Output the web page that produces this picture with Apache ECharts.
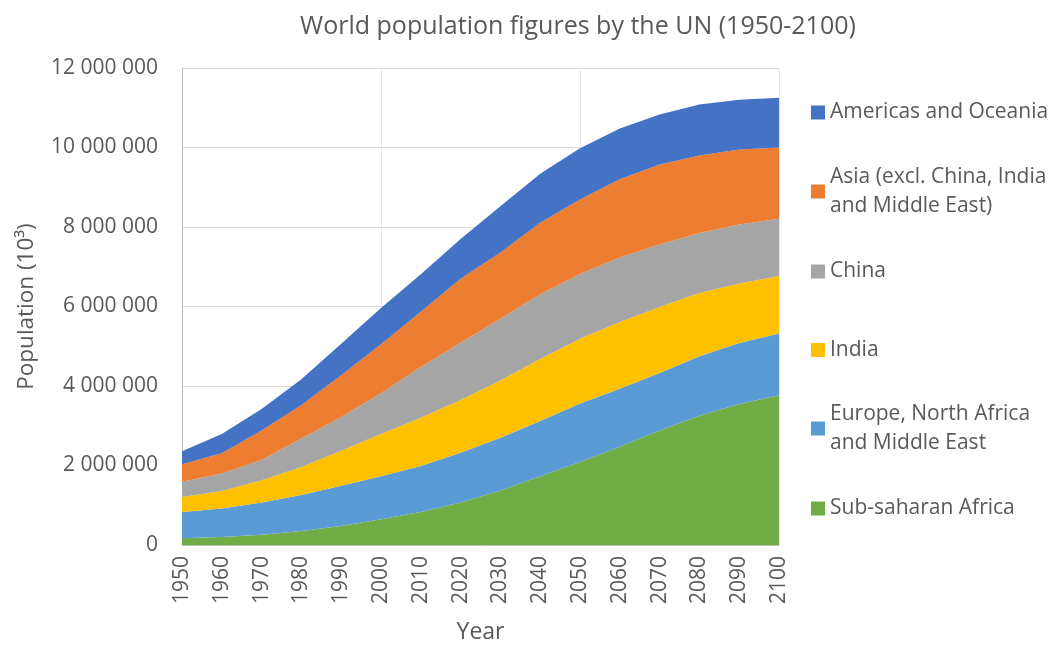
<!DOCTYPE html>
<html>
<head>
<meta charset="utf-8">
<script src="https://cdn.jsdelivr.net/npm/echarts@6/dist/echarts.min.js"></script>
<style>
  html, body { margin: 0; padding: 0; background: #ffffff; overflow: hidden; }
  #chart { width: 1049px; height: 649px; }
</style>
</head>
<body>
<div id="chart"></div>
<script>
// Years on the horizontal axis
const years = ['1950', '1960', '1970', '1980', '1990', '2000', '2010', '2020',
  '2030', '2040', '2050', '2060', '2070', '2080', '2090', '2100'];

// Population by region, in thousands (stacked bottom to top)
const subSaharanAfrica = [170000, 200000, 260000, 350000, 480000, 650000, 830000, 1070000,
  1370000, 1730000, 2090000, 2470000, 2880000, 3250000, 3550000, 3770000];
const europeNAfricaMiddleEast = [660000, 720000, 810000, 910000, 1010000, 1080000, 1160000, 1250000,
  1330000, 1390000, 1470000, 1460000, 1450000, 1500000, 1530000, 1550000];
const india = [380000, 440000, 560000, 700000, 880000, 1060000, 1210000, 1330000,
  1440000, 1560000, 1630000, 1680000, 1660000, 1590000, 1500000, 1450000];
const china = [380000, 440000, 510000, 720000, 850000, 1030000, 1280000, 1440000,
  1550000, 1630000, 1630000, 1620000, 1570000, 1510000, 1480000, 1440000];
const asiaOther = [440000, 510000, 740000, 840000, 1050000, 1230000, 1390000, 1610000,
  1670000, 1800000, 1870000, 1970000, 2010000, 1950000, 1890000, 1790000];
const americasOceania = [330000, 480000, 540000, 650000, 790000, 910000, 940000, 1000000,
  1160000, 1230000, 1290000, 1280000, 1260000, 1280000, 1250000, 1250000];

// Series names and colours
const names = {
  ssa: 'Sub-saharan Africa',
  eur: 'Europe, North Africa\nand Middle East',
  ind: 'India',
  chn: 'China',
  asia: 'Asia (excl. China, India\nand Middle East)',
  ame: 'Americas and Oceania'
};
const colors = {
  ssa: '#70AD47', eur: '#5B9BD5', ind: '#FFC000',
  chn: '#A5A5A5', asia: '#ED7D31', ame: '#4472C4'
};

const FONT = 'Open Sans';
const TEXT = '#595959';

function spaced(v) {
  return String(v).replace(/\B(?=(\d{3})+(?!\d))/g, ' ');
}

function area(key, data) {
  return {
    name: names[key],
    type: 'line',
    stack: 'total',
    data: data,
    symbol: 'none',
    smooth: false,
    lineStyle: { width: 0 },
    areaStyle: { color: colors[key], opacity: 1 },
    itemStyle: { color: colors[key] },
    emphasis: { disabled: true }
  };
}

// One legend block per entry, stacked down the right side
function legendEntry(key, top, twoLines) {
  return {
    data: [names[key]],
    orient: 'vertical',
    left: 811,
    top: top,
    padding: 0,
    itemWidth: 14,
    itemHeight: 14,
    icon: 'rect',
    selectedMode: false,
    textStyle: {
      fontFamily: FONT, fontSize: 21, color: TEXT, lineHeight: 29,
      padding: twoLines ? [29, 0, 0, 0] : 0
    }
  };
}

const chart = echarts.init(document.getElementById('chart'), null,
  { renderer: 'canvas', width: 1049, height: 649 });

chart.setOption({
  animation: false,
  backgroundColor: '#ffffff',
  title: {
    text: 'World population figures by the UN (1950-2100)',
    left: 573,
    top: 9,
    textAlign: 'center',
    textStyle: { fontFamily: FONT, fontSize: 25, fontWeight: 'normal', color: TEXT }
  },
  legend: [
    legendEntry('ame', 98, false),
    legendEntry('asia', 148, true),
    legendEntry('chn', 257, false),
    legendEntry('ind', 335.5, false),
    legendEntry('eur', 385, true),
    legendEntry('ssa', 494, false)
  ],
  grid: { left: 182, top: 68, width: 597, height: 483, containLabel: false },
  xAxis: {
    type: 'category',
    data: years,
    boundaryGap: false,
    name: 'Year',
    nameLocation: 'middle',
    nameGap: 76,
    nameTextStyle: { fontFamily: FONT, fontSize: 23, color: TEXT },
    axisLine: { lineStyle: { color: '#BFBFBF', width: 1 } },
    axisTick: { show: false },
    axisLabel: {
      rotate: 90, margin: 11, interval: 0,
      fontFamily: FONT, fontSize: 21, color: TEXT
    },
    splitLine: { show: true, interval: 4, lineStyle: { color: '#E6E6E6', width: 1 } }
  },
  yAxis: {
    type: 'value',
    min: 0,
    max: 12000000,
    interval: 2000000,
    name: 'Population (10³)',
    nameLocation: 'middle',
    nameGap: 144,
    nameTextStyle: { fontFamily: FONT, fontSize: 22.5, color: TEXT },
    axisLine: { show: true, lineStyle: { color: '#BFBFBF', width: 1 } },
    axisTick: { show: false },
    axisLabel: {
      margin: 24, fontFamily: FONT, fontSize: 21, color: TEXT,
      formatter: spaced
    },
    splitLine: { show: true, lineStyle: { color: '#D9D9D9', width: 1 } }
  },
  series: [
    area('ssa', subSaharanAfrica),
    area('eur', europeNAfricaMiddleEast),
    area('ind', india),
    area('chn', china),
    area('asia', asiaOther),
    area('ame', americasOceania)
  ]
});
</script>
</body>
</html>
